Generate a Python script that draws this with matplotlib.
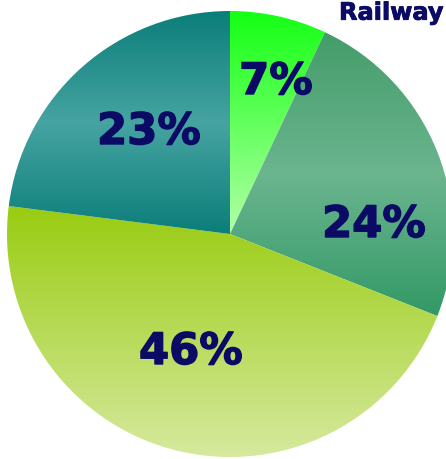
import numpy as np
import matplotlib
matplotlib.use("Agg")
import matplotlib.pyplot as plt
import matplotlib.patheffects as pe
from matplotlib.patches import Wedge
from matplotlib.colors import LinearSegmentedColormap

# Share of each segment, clockwise from 12 o'clock
labels = ["7%", "24%", "46%", "23%"]
shares = [7, 24, 46, 23]
title_text = "Railway"

# Vertical gradient stops (bottom -> top) for each slice
gradients = [
    [(0.0, "#b2ffa8"), (1.0, "#14ff14")],
    [(0.0, "#339966"), (0.5, "#6bb58f"), (1.0, "#449c6a")],
    [(0.0, "#d6e99e"), (1.0, "#99cc11")],
    [(0.0, "#0b7e7a"), (0.5, "#46a4a1"), (1.0, "#0b7e7a")],
]

# Label anchors (x centre, baseline) in figure pixel coordinates, y up
label_pos = [(276, 365), (374, 222), (191, 95), (149, 315)]

W, H = 446, 460
fig = plt.figure(figsize=(W / 100, H / 100), dpi=100)
ax = fig.add_axes([0, 0, 1, 1])
ax.set_xlim(0, W)
ax.set_ylim(0, H)
ax.set_axis_off()

cx, cy, r = 230, 225, 223
navy = "#0b0b66"

total = float(sum(shares))
start = 90.0
for share, stops in zip(shares, gradients):
    sweep = 360.0 * share / total
    wedge = Wedge((cx, cy), r, start - sweep, start, facecolor="none",
                  edgecolor="none")
    ax.add_patch(wedge)
    ext = wedge.get_path().get_extents()
    cmap = LinearSegmentedColormap.from_list("seg", stops)
    grad = np.linspace(0, 1, 256).reshape(-1, 1)
    im = ax.imshow(grad, cmap=cmap, aspect="auto", origin="lower",
                   extent=(cx - r, cx + r, ext.y0, ext.y1),
                   interpolation="bilinear", zorder=1)
    im.set_clip_path(wedge)
    start -= sweep

ax.set_xlim(0, W)
ax.set_ylim(0, H)

heavy = [pe.withStroke(linewidth=1.0, foreground=navy)]
for text, (x, y) in zip(labels, label_pos):
    ax.text(x, y, text, ha="center", va="baseline", fontsize=31.2,
            fontweight="bold", color=navy, family="DejaVu Sans", zorder=3,
            path_effects=heavy)

ax.text(339, 439.3, title_text, ha="left", va="baseline", fontsize=17.3,
        fontweight="bold", color=navy, family="DejaVu Sans", zorder=3,
        path_effects=[pe.withStroke(linewidth=0.6, foreground=navy)])

fig.savefig("out.png", dpi=100)
